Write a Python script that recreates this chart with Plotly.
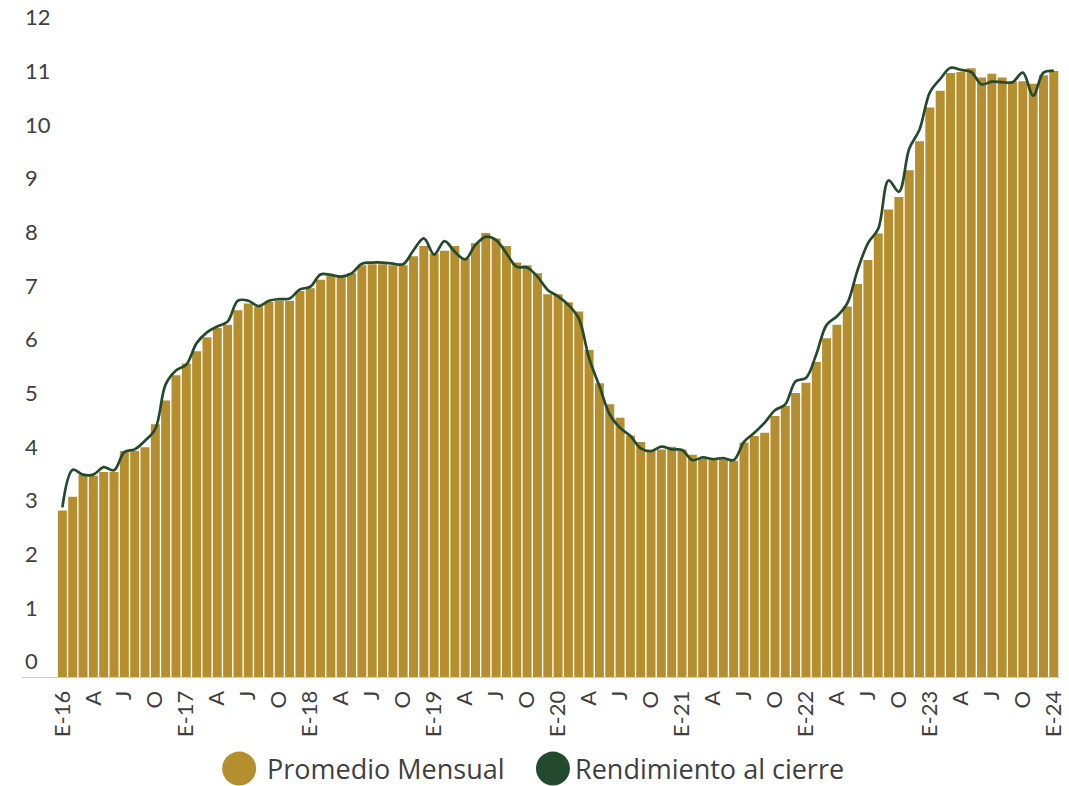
import plotly.graph_objects as go

# Cetes a 28 días: promedio mensual y rendimiento al cierre, ene-2016 a ene-2024 (%)
promedio_mensual = [
    3.10, 3.36, 3.77, 3.75, 3.82, 3.82, 4.21, 4.21, 4.28, 4.71, 5.15, 5.62,
    5.84, 6.07, 6.33, 6.50, 6.56, 6.83, 6.96, 6.90, 6.99, 7.01, 7.01, 7.19,
    7.24, 7.40, 7.48, 7.46, 7.52, 7.67, 7.69, 7.69, 7.67, 7.67, 7.84, 8.03,
    7.89, 7.94, 8.03, 7.80, 8.08, 8.27, 8.17, 8.03, 7.72, 7.67, 7.52, 7.13,
    7.13, 6.98, 6.81, 6.09, 5.47, 5.08, 4.83, 4.50, 4.38, 4.22, 4.24, 4.29,
    4.24, 4.14, 4.06, 4.06, 4.06, 4.03, 4.37, 4.49, 4.55, 4.86, 5.05, 5.29,
    5.48, 5.87, 6.31, 6.56, 6.90, 7.32, 7.77, 8.26, 8.71, 8.94, 9.44, 9.98,
    10.61, 10.92, 11.25, 11.27, 11.34, 11.17, 11.24, 11.17, 11.10, 11.10, 11.05, 11.21,
    11.29,
]

rendimiento_cierre = [
    3.16, 3.86, 3.77, 3.77, 3.91, 3.85, 4.19, 4.24, 4.40, 4.62, 5.45, 5.71,
    5.82, 6.22, 6.42, 6.53, 6.62, 7.01, 7.01, 6.91, 7.01, 7.04, 7.05, 7.22,
    7.27, 7.50, 7.49, 7.46, 7.52, 7.70, 7.72, 7.72, 7.70, 7.69, 7.95, 8.17,
    7.87, 8.12, 7.92, 7.78, 8.05, 8.20, 8.14, 7.89, 7.64, 7.63, 7.46, 7.21,
    7.09, 6.93, 6.68, 5.94, 5.42, 4.89, 4.64, 4.49, 4.26, 4.21, 4.29, 4.24,
    4.23, 4.04, 4.09, 4.06, 4.08, 4.04, 4.38, 4.55, 4.74, 4.97, 5.08, 5.51,
    5.57, 6.01, 6.56, 6.72, 6.96, 7.58, 8.08, 8.35, 9.25, 9.04, 9.84, 10.20,
    10.89, 11.14, 11.35, 11.31, 11.27, 11.04, 11.09, 11.08, 11.08, 11.26, 10.83, 11.26,
    11.29,
]

anio_inicial = 16
letras_trimestre = {0: "E", 3: "A", 6: "J", 9: "O"}
y_ticks = list(range(0, 13))

meses = list(range(len(promedio_mensual)))
tick_pos = [m for m in meses if m % 3 == 0]
tick_txt = [
    f"E-{anio_inicial + m // 12}" if m % 12 == 0 else letras_trimestre[m % 12]
    for m in tick_pos
]

ORO = "#B58F2F"
VERDE = "#244A2E"
GRIS = "#404040"

ANCHO, ALTO = 1069, 786
M_IZQ, M_DER, M_SUP, M_INF = 22, 5, 3, 109
ancho_area = ANCHO - M_IZQ - M_DER
alto_area = ALTO - M_SUP - M_INF

fig = go.Figure()
fig.add_trace(go.Bar(
    x=meses, y=promedio_mensual, name="Promedio Mensual",
    marker=dict(color=ORO, line=dict(width=0)),
))
fig.add_trace(go.Scatter(
    x=meses, y=rendimiento_cierre, name="Rendimiento al cierre",
    mode="lines", line=dict(color=VERDE, width=2.7, shape="spline", smoothing=1.0),
))

fig.update_layout(
    width=ANCHO, height=ALTO,
    margin=dict(l=M_IZQ, r=M_DER, t=M_SUP, b=M_INF),
    paper_bgcolor="white", plot_bgcolor="white",
    bargap=0.13,
    showlegend=False,
    font=dict(family="Lato, Open Sans, sans-serif", color=GRIS),
    xaxis=dict(
        range=[-3.91, 96.6],
        tickmode="array", tickvals=tick_pos, ticktext=tick_txt,
        tickangle=-90, tickfont=dict(size=22, color=GRIS),
        ticklabeloverflow="allow",
        showgrid=False, zeroline=False,
        showline=True, linecolor="#cfcfcf", linewidth=1,
        ticks="", ticklabelstandoff=4,
    ),
    yaxis=dict(
        range=[0, 12.5],
        tickmode="array", tickvals=y_ticks,
        ticklabelposition="inside top",
        ticklabeloverflow="allow",
        tickfont=dict(size=22, color=GRIS),
        showgrid=False, zeroline=False, showline=False, ticks="",
    ),
)

# Leyenda inferior con círculos
leyenda = [
    (240, ORO, "Promedio Mensual", 266),
    (555, VERDE, "Rendimiento al cierre", 575),
]
y_ley = 17  # píxeles desde el borde inferior de la figura
y_paper = -(M_INF - y_ley) / alto_area
for cx, color, texto, tx in leyenda:
    fig.add_shape(
        type="circle", xref="paper", yref="paper",
        xsizemode="pixel", ysizemode="pixel",
        xanchor=(cx - M_IZQ) / ancho_area, yanchor=y_paper,
        x0=-17, x1=17, y0=-17, y1=17,
        fillcolor=color, line=dict(width=0),
    )
    fig.add_annotation(
        xref="paper", yref="paper",
        x=(tx - M_IZQ) / ancho_area, y=y_paper,
        text=texto, showarrow=False, xanchor="left", yanchor="middle",
        font=dict(family="Open Sans, sans-serif", size=27, color=GRIS),
    )

fig.write_html("out.html")
